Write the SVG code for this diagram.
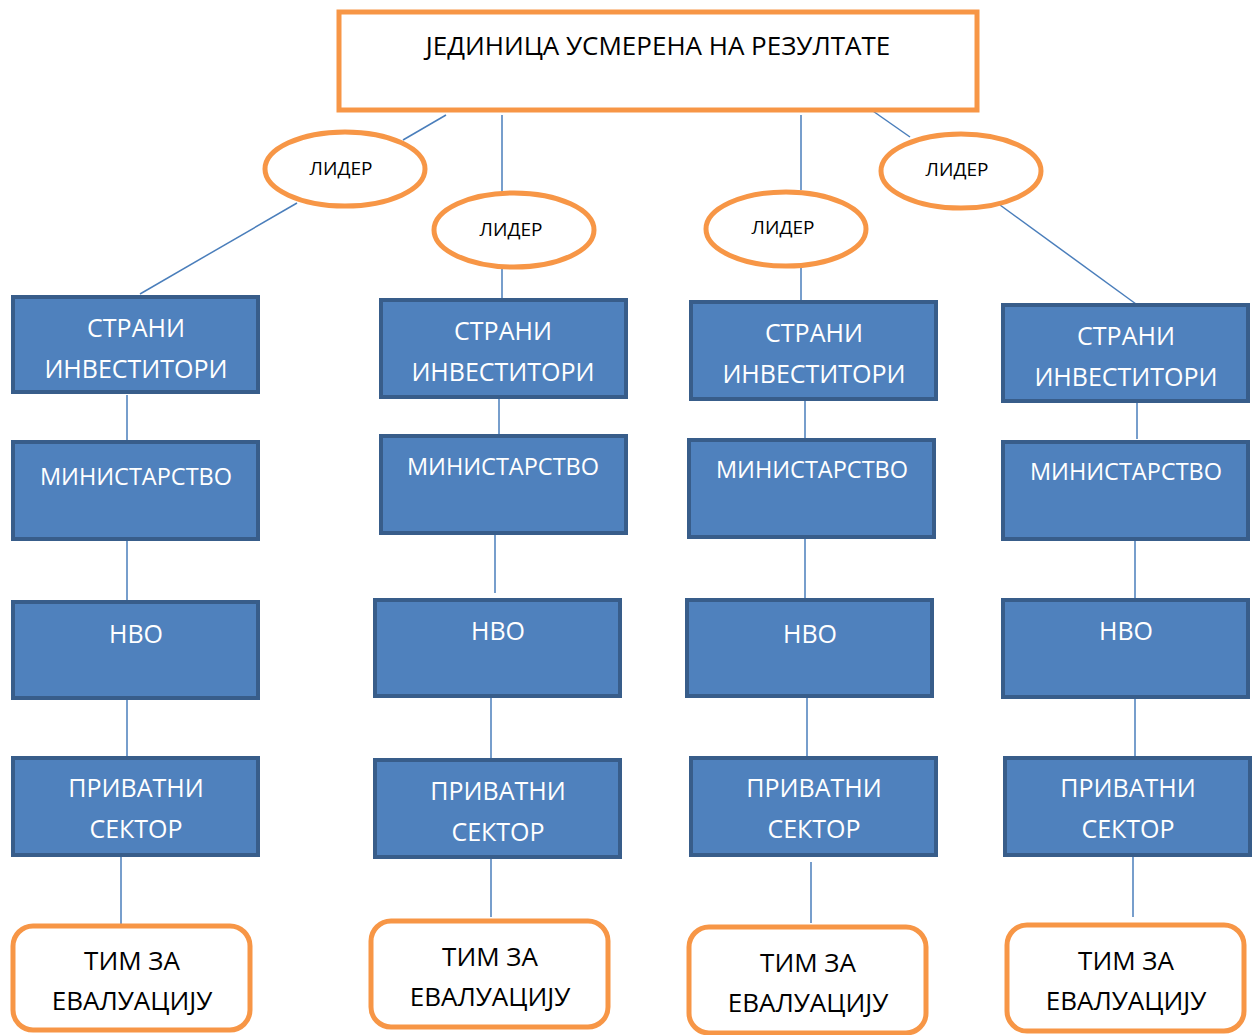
<svg xmlns="http://www.w3.org/2000/svg" width="1254" height="1035" viewBox="0 0 1254 1035">
<style>
.b{fill:#4F81BD;stroke:#385D8A;stroke-width:4}
.o{fill:#fff;stroke:#F79646;stroke-width:5}
.c{stroke:#4A7EBB;stroke-width:1.5;fill:none}
text{font-family:"Open Sans","Liberation Sans",sans-serif;text-anchor:middle}
.w{fill:#fff;font-size:25px}
.m{font-size:23.5px}
.k{fill:#000;font-size:26px}
.s{fill:#000;font-size:19px}
</style>
<rect width="1254" height="1035" fill="#fff"/>
<g id="connectors">
<line class="c" x1="446" y1="115" x2="403" y2="140"/>
<line class="c" x1="297" y1="203" x2="140" y2="294"/>
<line class="c" x1="502" y1="115" x2="502" y2="192"/>
<line class="c" x1="502" y1="269" x2="502" y2="298"/>
<line class="c" x1="801" y1="115" x2="801" y2="190"/>
<line class="c" x1="801" y1="268" x2="801" y2="300"/>
<line class="c" x1="870" y1="109" x2="910" y2="137"/>
<line class="c" x1="1000" y1="205" x2="1136" y2="304"/>
<line class="c" x1="127" y1="395" x2="127" y2="441"/>
<line class="c" x1="127" y1="540" x2="127" y2="601"/>
<line class="c" x1="127" y1="699" x2="127" y2="760"/>
<line class="c" x1="121" y1="856" x2="121" y2="928"/>
<line class="c" x1="499" y1="398" x2="499" y2="437"/>
<line class="c" x1="495" y1="534" x2="495" y2="593"/>
<line class="c" x1="491" y1="697" x2="491" y2="759"/>
<line class="c" x1="491" y1="858" x2="491" y2="917"/>
<line class="c" x1="805" y1="400" x2="805" y2="439"/>
<line class="c" x1="805" y1="538" x2="805" y2="599"/>
<line class="c" x1="807" y1="697" x2="807" y2="759"/>
<line class="c" x1="811" y1="862" x2="811" y2="923"/>
<line class="c" x1="1137" y1="402" x2="1137" y2="439"/>
<line class="c" x1="1135" y1="540" x2="1135" y2="599"/>
<line class="c" x1="1135" y1="698" x2="1135" y2="757"/>
<line class="c" x1="1133" y1="856" x2="1133" y2="917"/>
</g>
<g id="top"><rect class="o" x="339" y="12" width="638" height="98"/><text class="k" x="658" y="55">ЈЕДИНИЦА УСМЕРЕНА НА РЕЗУЛТАТЕ</text></g>
<g id="leader1"><ellipse class="o" cx="345" cy="169" rx="80" ry="37"/><text class="s" x="341" y="175">ЛИДЕР</text></g>
<g id="leader2"><ellipse class="o" cx="514" cy="230" rx="80" ry="37"/><text class="s" x="511" y="236">ЛИДЕР</text></g>
<g id="leader3"><ellipse class="o" cx="786" cy="229" rx="80" ry="37"/><text class="s" x="783" y="234">ЛИДЕР</text></g>
<g id="leader4"><ellipse class="o" cx="961" cy="171" rx="80" ry="37"/><text class="s" x="957" y="176">ЛИДЕР</text></g>

<g id="c1-investors"><rect class="b" x="13" y="297" width="245" height="95"/><text class="w" x="136" y="337">СТРАНИ</text><text class="w" x="136" y="378">ИНВЕСТИТОРИ</text></g>
<g id="c1-ministry"><rect class="b" x="13" y="442" width="245" height="97"/><text class="w m" x="136" y="485">МИНИСТАРСТВО</text></g>
<g id="c1-ngo"><rect class="b" x="13" y="602" width="245" height="96"/><text class="w" x="136" y="643">НВО</text></g>
<g id="c1-private"><rect class="b" x="13" y="758" width="245" height="97"/><text class="w" x="136" y="797">ПРИВАТНИ</text><text class="w" x="136" y="838">СЕКТОР</text></g>
<g id="c1-team"><rect class="o" x="13" y="926" width="237" height="104" rx="20"/><text class="k" x="132" y="970">ТИМ ЗА</text><text class="k" x="132" y="1010">ЕВАЛУАЦИЈУ</text></g>

<g id="c2-investors"><rect class="b" x="381" y="300" width="245" height="97"/><text class="w" x="503" y="340">СТРАНИ</text><text class="w" x="503" y="381">ИНВЕСТИТОРИ</text></g>
<g id="c2-ministry"><rect class="b" x="381" y="436" width="245" height="97"/><text class="w m" x="503" y="475">МИНИСТАРСТВО</text></g>
<g id="c2-ngo"><rect class="b" x="375" y="600" width="245" height="96"/><text class="w" x="498" y="640">НВО</text></g>
<g id="c2-private"><rect class="b" x="375" y="760" width="245" height="97"/><text class="w" x="498" y="800">ПРИВАТНИ</text><text class="w" x="498" y="841">СЕКТОР</text></g>
<g id="c2-team"><rect class="o" x="371" y="921" width="237" height="106" rx="20"/><text class="k" x="490" y="966">ТИМ ЗА</text><text class="k" x="490" y="1006">ЕВАЛУАЦИЈУ</text></g>

<g id="c3-investors"><rect class="b" x="691" y="302" width="245" height="97"/><text class="w" x="814" y="342">СТРАНИ</text><text class="w" x="814" y="383">ИНВЕСТИТОРИ</text></g>
<g id="c3-ministry"><rect class="b" x="689" y="440" width="245" height="97"/><text class="w m" x="812" y="478">МИНИСТАРСТВО</text></g>
<g id="c3-ngo"><rect class="b" x="687" y="600" width="245" height="96"/><text class="w" x="810" y="643">НВО</text></g>
<g id="c3-private"><rect class="b" x="691" y="758" width="245" height="97"/><text class="w" x="814" y="797">ПРИВАТНИ</text><text class="w" x="814" y="838">СЕКТОР</text></g>
<g id="c3-team"><rect class="o" x="689" y="927" width="237" height="106" rx="20"/><text class="k" x="808" y="972">ТИМ ЗА</text><text class="k" x="808" y="1012">ЕВАЛУАЦИЈУ</text></g>

<g id="c4-investors"><rect class="b" x="1003" y="305" width="245" height="96"/><text class="w" x="1126" y="345">СТРАНИ</text><text class="w" x="1126" y="386">ИНВЕСТИТОРИ</text></g>
<g id="c4-ministry"><rect class="b" x="1003" y="442" width="245" height="97"/><text class="w m" x="1126" y="480">МИНИСТАРСТВО</text></g>
<g id="c4-ngo"><rect class="b" x="1003" y="600" width="245" height="97"/><text class="w" x="1126" y="640">НВО</text></g>
<g id="c4-private"><rect class="b" x="1005" y="758" width="245" height="97"/><text class="w" x="1128" y="797">ПРИВАТНИ</text><text class="w" x="1128" y="838">СЕКТОР</text></g>
<g id="c4-team"><rect class="o" x="1007" y="925" width="237" height="106" rx="20"/><text class="k" x="1126" y="970">ТИМ ЗА</text><text class="k" x="1126" y="1010">ЕВАЛУАЦИЈУ</text></g>
</svg>
